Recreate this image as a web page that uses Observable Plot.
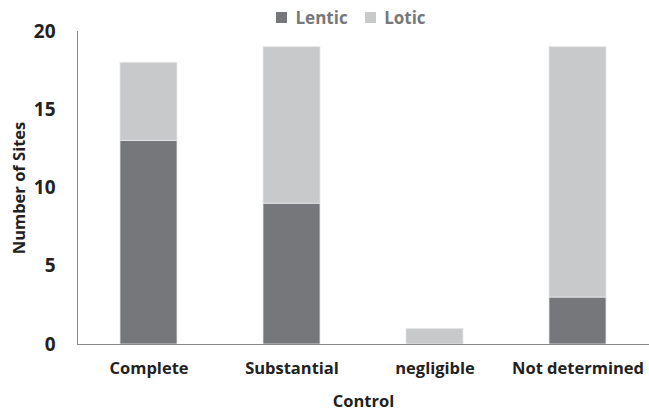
<!DOCTYPE html>
<html><head><meta charset="utf-8">
<script src="https://cdn.jsdelivr.net/npm/d3@7"></script>
<script src="https://cdn.jsdelivr.net/npm/@observablehq/plot@0.6"></script>
<style>
html,body{margin:0;padding:0;background:#fff;}
#wrap{position:relative;width:649px;height:414px;}
#legend{position:absolute;top:1px;left:276px;}
</style>
</head><body>
<div id="wrap"><div id="chart"></div><div id="legend"></div></div>
<script>
const categories = ["Complete", "Substantial", "negligible", "Not determined"];
const series = ["Lentic", "Lotic"];
const lentic = [13, 9, 0, 3];
const lotic = [5, 10, 1, 16];
const yTicks = [0, 5, 10, 15, 20];
const colors = ["#76777b", "#c8c9cb"];

const rows = [];
categories.forEach((c, i) => {
  rows.push({control: c, type: "Lentic", n: lentic[i]});
  rows.push({control: c, type: "Lotic", n: lotic[i]});
});

const font = "'Open Sans', 'Liberation Sans', sans-serif";

const chart = Plot.plot({
  width: 649,
  height: 414,
  marginLeft: 77,
  marginRight: 0,
  marginTop: 31,
  marginBottom: 70,
  style: {fontFamily: font, fontSize: "16px", fontWeight: "bold", color: "#222", background: "#fff"},
  x: {domain: categories, paddingInner: 0.6, paddingOuter: 0.3},
  y: {domain: [0, 20]},
  color: {domain: series, range: colors},
  marks: [
    Plot.barY(rows, {x: "control", y: "n", fill: "type", stroke: "#e6e6e6", strokeWidth: 0.8}),
    Plot.axisY({ticks: yTicks, tickSize: 0, tickPadding: 22, fontSize: 19, label: null}),
    Plot.axisY({ticks: [], tickSize: 0, fontSize: 16.5, label: "Number of Sites", labelAnchor: "center", labelOffset: 64, labelArrow: "none"}),
    Plot.axisX({tickSize: 0, tickPadding: 18, fontSize: 16.5, label: "Control", labelAnchor: "center", labelOffset: 62, labelArrow: "none"}),
    Plot.frame({anchor: "left", stroke: "#8a8a8a"}),
    Plot.ruleY([0], {stroke: "#8a8a8a"})
  ]
});
document.getElementById("chart").appendChild(chart);

const leg = Plot.legend({
  color: {domain: series, range: colors},
  swatchSize: 11,
  style: {fontFamily: font, fontSize: "17px", fontWeight: "bold", color: "#77787b"}
});
document.getElementById("legend").appendChild(leg);
</script>
</body></html>
